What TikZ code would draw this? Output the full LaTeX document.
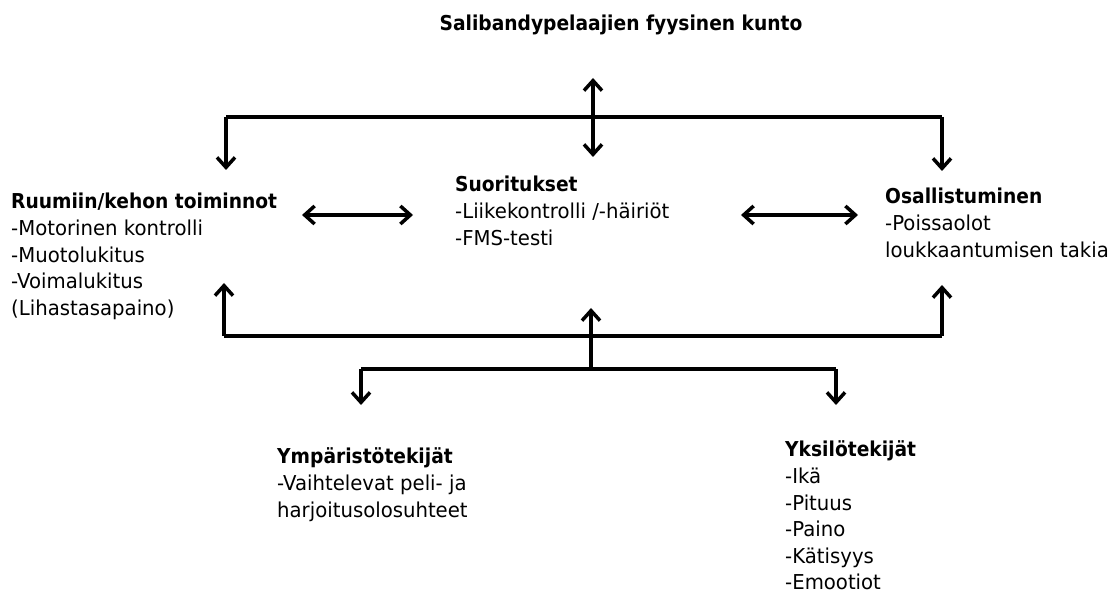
\documentclass[tikz,border=0pt]{standalone}
\usepackage{fontspec}
\setmainfont{DejaVu Sans}[UprightFeatures={FakeStretch=0.96},BoldFeatures={FakeStretch=0.91}]
\usetikzlibrary{arrows.meta}
\begin{document}
\begin{tikzpicture}[x=1pt,y=-1pt,
  txt/.style={anchor=north west, inner sep=0pt, align=left,
    font=\fontsize{20.5}{26.6}\selectfont},
  ttl/.style={inner sep=0pt, font=\fontsize{20.5}{26.6}\selectfont\bfseries},
  bar/.style={line width=3.5pt, line join=miter},
  conn/.style={bar, -{Straight Barb[length=10pt,width=18pt]}},
  dconn/.style={bar, {Straight Barb[length=10pt,width=18pt]}-{Straight Barb[length=10pt,width=18pt]}}]
\useasboundingbox (0,0) rectangle (1113,593);
% text nodes
\node[ttl] (title) at (621,25) {Salibandypelaajien fyysinen kunto};
\node[txt] (body) at (11,190) {\strut\textbf{Ruumiin/kehon toiminnot}\\-Motorinen kontrolli\\-Muotolukitus\\-Voimalukitus\\(Lihastasapaino)};
\node[txt] (perf) at (455,173) {\strut\textbf{Suoritukset}\\-Liikekontrolli /-häiriöt\\-FMS-testi};
\node[txt] (part) at (885,185) {\strut\textbf{Osallistuminen}\\-Poissaolot\\loukkaantumisen takia};
\node[txt] (env) at (277,445) {\strut\textbf{Ympäristötekijät}\\-Vaihtelevat peli- ja\\harjoitusolosuhteet};
\node[txt] (pers) at (785,438) {\strut\textbf{Yksilötekijät}\\-Ikä\\-Pituus\\-Paino\\-Kätisyys\\-Emootiot};
% coordinates
\coordinate (ttip) at (593,78);
\coordinate (btip) at (593,157);
\coordinate (tl) at (226,117);
\coordinate (tr) at (942,117);
\coordinate (tld) at (226,170);
\coordinate (trd) at (942,171);
\coordinate (lh1) at (302,215);
\coordinate (lh2) at (413,215);
\coordinate (rh1) at (741,215);
\coordinate (rh2) at (858,215);
\coordinate (bl) at (224,336);
\coordinate (br) at (942,336);
\coordinate (blu) at (224,283);
\coordinate (bru) at (942,285);
\coordinate (mj) at (591,369);
\coordinate (mu) at (591,308);
\coordinate (sl) at (361,369);
\coordinate (sr) at (836,369);
\coordinate (sld) at (361,405);
\coordinate (srd) at (836,405);
% connectors
\draw[bar] (tl) -- (tr);
\draw[dconn] (ttip) -- (btip);
\draw[conn] (tl) -- (tld);
\draw[conn] (tr) -- (trd);
\draw[dconn] (lh1) -- (lh2);
\draw[dconn] (rh1) -- (rh2);
\draw[bar] (bl) -- (br);
\draw[conn] (bl) -- (blu);
\draw[conn] (br) -- (bru);
\draw[conn] (mj) -- (mu);
\draw[bar] (sl) -- (sr);
\draw[conn] (sl) -- (sld);
\draw[conn] (sr) -- (srd);
\end{tikzpicture}
\end{document}
